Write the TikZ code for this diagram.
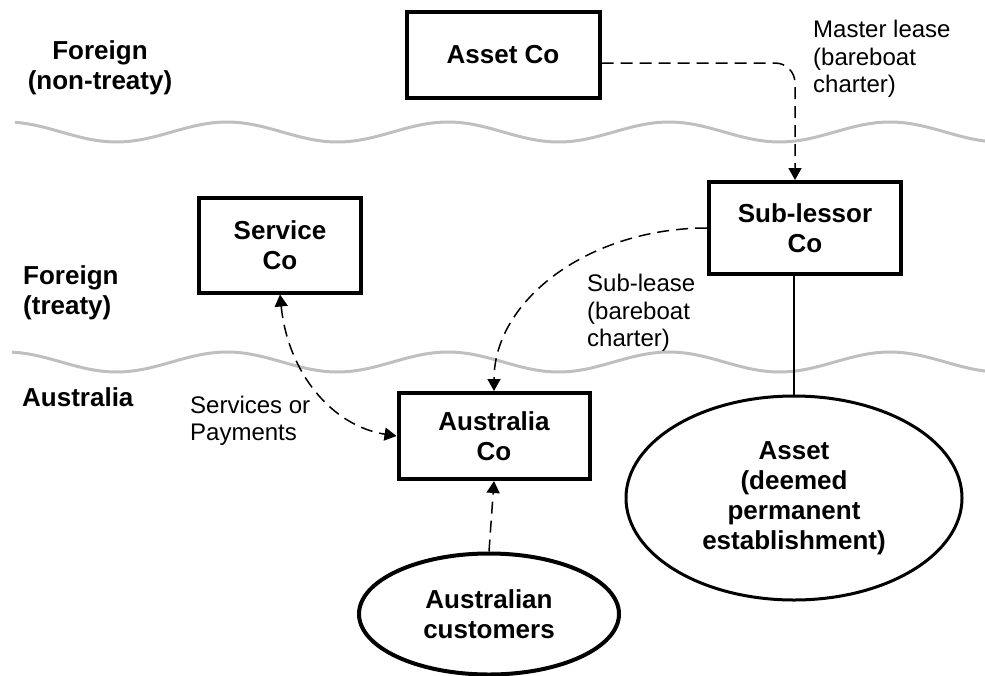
\documentclass[tikz,border=0pt]{standalone}
\usepackage{fontspec}
\setmainfont{Liberation Sans}
\usetikzlibrary{arrows.meta,shapes.geometric}
\newcommand{\boxfont}{\fontsize{26}{30}\selectfont\bfseries}
\newcommand{\notefont}{\fontsize{24}{27.5}\selectfont}
\begin{document}
\begin{tikzpicture}[x=1pt,y=1pt,
    entity/.style={draw, line width=4pt, align=center, font=\boxfont, inner sep=0pt},
    place/.style={draw, ellipse, align=center, font=\boxfont, inner sep=0pt},
    region/.style={font=\boxfont, inner sep=0pt},
    note/.style={font=\notefont, align=left, inner sep=0pt, anchor=west},
    tip/.tip={Triangle[length=12pt,width=13pt]},
    flow/.style={line width=1.5pt, dash pattern=on 12pt off 7pt, -tip},
    border/.style={line width=3pt, color=black!25}]
\useasboundingbox (0,0) rectangle (985,-675);

% borders between the regions
\foreach \yc/\xs in {132/15,362/12}{
    \draw[border] plot[domain=\xs:985, samples=120, smooth] (\x,{-\yc+10*cos(1.62896*(\x-6))});
}

% companies
\node[entity, minimum width=193, minimum height=86] (assetco) at (503,-55) {Asset Co};
\node[entity, minimum width=162, minimum height=95] (serviceco) at (280,-245) {Service\\Co};
\node[entity, minimum width=192, minimum height=92] (subco) at (805,-228) {Sub-lessor\\Co};
\node[entity, minimum width=191, minimum height=86] (ausco) at (494,-436) {Australia\\Co};
\node[place, line width=4pt, minimum width=260, minimum height=121] (cust) at (489,-614) {Australian\\customers};
\node[place, line width=3pt, minimum width=336, minimum height=204] (assetpe) at (794,-498) {Asset\\(deemed\\permanent\\establishment)};

% regions
\node[region, align=center] (nontreaty) at (100,-68) {Foreign\\(non-treaty)};
\node[region, align=left, anchor=west] (treaty) at (23,-293) {Foreign\\(treaty)};
\node[region, anchor=west] (aus) at (22,-397) {Australia};

% flows
\draw[flow, rounded corners=20pt] ([yshift=-8pt]assetco.east) -| ([xshift=-10pt]subco.north);
\draw[flow] (subco.west) .. controls +(-118,0) and +(0,91) .. (ausco.north);
\draw[flow, tip-tip] (serviceco.south) .. controls +(8,-79) and +(-64,10) .. (ausco.west);
\draw[flow] (cust.north) -- (ausco.south);
\draw[line width=1.5pt] (assetpe.north) -- (assetpe.north |- subco.south);

\node[note] (masterlbl) at (813,-59) {Master lease\\(bareboat\\charter)};
\node[note] (sublbl) at (587,-313) {Sub-lease\\(bareboat\\charter)};
\node[note] (servlbl) at (190,-421) {Services or\\Payments};

\end{tikzpicture}
\end{document}
